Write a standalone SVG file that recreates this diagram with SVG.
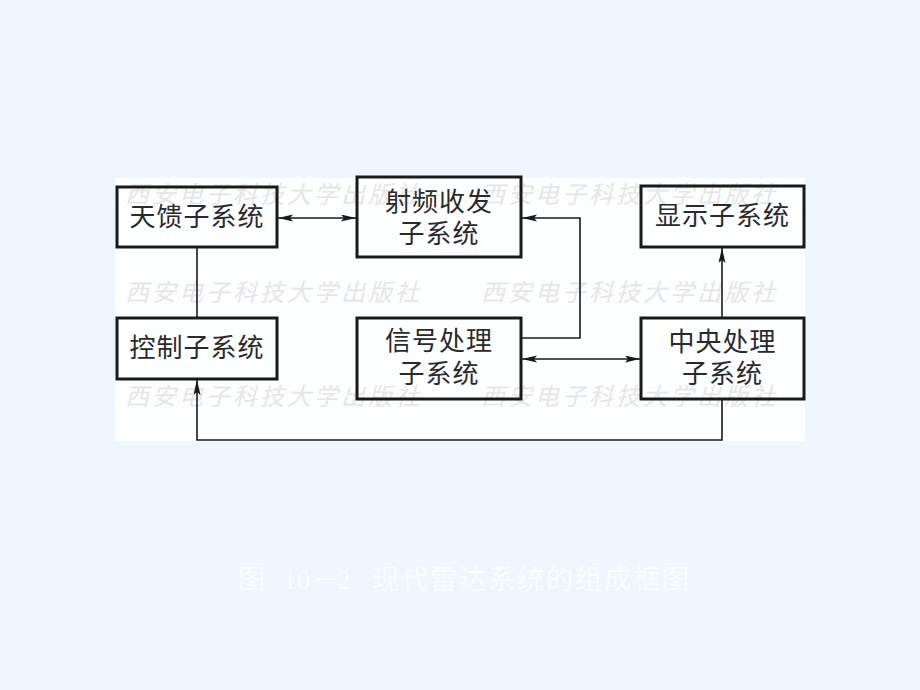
<svg xmlns="http://www.w3.org/2000/svg" width="920" height="690" viewBox="0 0 920 690">
<style>
.box{fill:none;stroke:#1a1a1a;stroke-width:3}
.lbl{font-family:"Noto Sans CJK SC","Noto Sans CJK TC",sans-serif;font-size:26px;fill:#2a2a2a;text-anchor:middle;letter-spacing:1px}
.wm{font-family:"Noto Sans CJK SC",sans-serif;font-size:24px;fill:#e6e6e6;font-style:italic;letter-spacing:3px}
.cap{font-family:"Liberation Serif","Noto Sans CJK SC",serif;font-size:27px;fill:#fbfdff}
.con{fill:none;stroke:#1a1a1a;stroke-width:1.6}
</style>
<defs>
<marker id="ah" markerUnits="userSpaceOnUse" markerWidth="16" markerHeight="8" refX="15" refY="3.5" orient="auto-start-reverse">
<path d="M0,0 L15,3.5 L0,7 L3,3.5 z" fill="#1a1a1a"/>
</marker>
</defs>
<rect width="920" height="690" fill="#eff6ff"/>
<rect x="115" y="178" width="690" height="263" fill="#fdfeff"/>
<g id="watermark">
<text class="wm" x="125" y="203">西安电子科技大学出版社</text>
<text class="wm" x="481" y="203">西安电子科技大学出版社</text>
<text class="wm" x="125" y="301">西安电子科技大学出版社</text>
<text class="wm" x="481" y="301">西安电子科技大学出版社</text>
<text class="wm" x="125" y="405">西安电子科技大学出版社</text>
<text class="wm" x="481" y="405">西安电子科技大学出版社</text>
</g>
<g id="connectors">
<line class="con" x1="278" y1="218" x2="356" y2="218" marker-start="url(#ah)" marker-end="url(#ah)"/>
<polyline class="con" points="522,338 580,338 580,218 522,218" marker-end="url(#ah)"/>
<line class="con" x1="522" y1="359" x2="640" y2="359" marker-start="url(#ah)" marker-end="url(#ah)"/>
<line class="con" x1="722" y1="318" x2="722" y2="248" marker-end="url(#ah)"/>
<line class="con" x1="197" y1="247" x2="197" y2="318"/>
<polyline class="con" points="722,399 722,440 197,440 197,380" marker-end="url(#ah)"/>
</g>
<g id="tiankui">
<rect class="box" x="117" y="187" width="160" height="60"/>
<text class="lbl" x="197" y="226">天馈子系统</text>
</g>
<g id="shepin">
<rect class="box" x="357" y="177" width="164" height="80"/>
<text class="lbl" x="439" y="211">射频收发</text>
<text class="lbl" x="439" y="243">子系统</text>
</g>
<g id="xianshi">
<rect class="box" x="641" y="186" width="163" height="61"/>
<text class="lbl" x="722.5" y="225">显示子系统</text>
</g>
<g id="kongzhi">
<rect class="box" x="117" y="318" width="160" height="61"/>
<text class="lbl" x="197" y="357">控制子系统</text>
</g>
<g id="xinhao">
<rect class="box" x="357" y="318" width="164" height="81"/>
<text class="lbl" x="439" y="350">信号处理</text>
<text class="lbl" x="439" y="383">子系统</text>
</g>
<g id="zhongyang">
<rect class="box" x="641" y="318" width="163" height="81"/>
<text class="lbl" x="722.5" y="351">中央处理</text>
<text class="lbl" x="722.5" y="383">子系统</text>
</g>
<g id="caption">
<text class="cap" y="589"><tspan x="238">图</tspan><tspan x="283">10</tspan><tspan x="312">－</tspan><tspan x="337">2</tspan><tspan x="372" letter-spacing="2">现代雷达系统的组成框图</tspan></text>
</g>
</svg>
